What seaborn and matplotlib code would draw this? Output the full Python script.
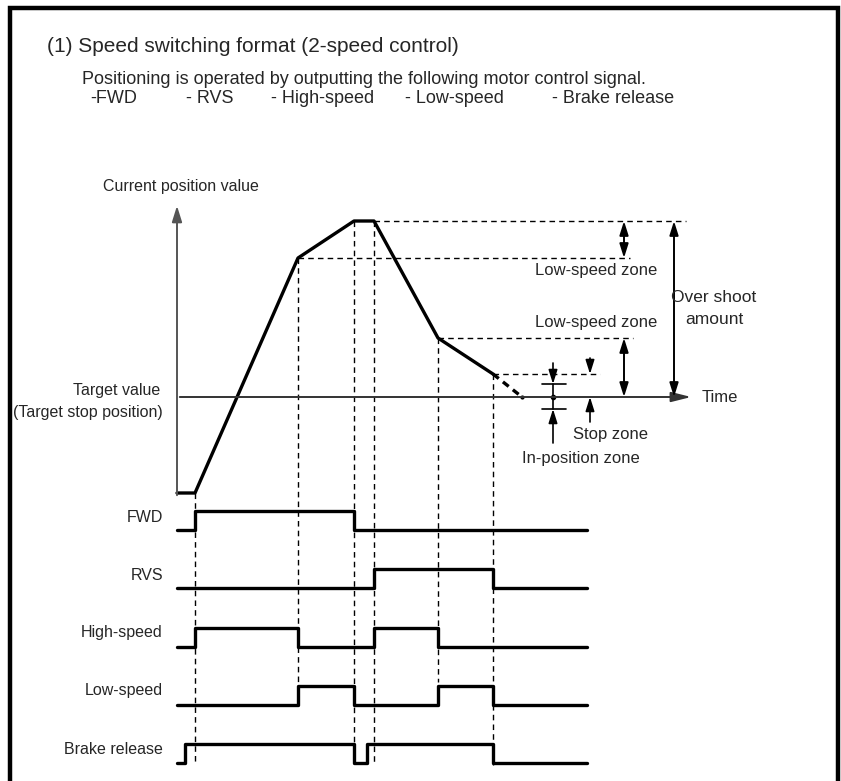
import matplotlib
matplotlib.use("Agg")
import matplotlib.pyplot as plt
import seaborn as sns
import pandas as pd

sns.set_theme(style="white")
plt.rcParams['font.family'] = ['Liberation Sans', 'DejaVu Sans']

# time instants of the sequence (diagram x units)
t_start = 177
t_move = 195
t_low1 = 298
t_stop1 = 354
t_rvs = 374
t_low2 = 438
t_stop2 = 493
t_end = 587
t_brake_on = 185
t_brake_re = 367

# current position (diagram y units, target line at 397)
target_y = 397
pos_t = [t_start, t_move, t_low1, t_stop1, t_rvs, t_low2, t_stop2]
pos_y = [493, 493, 258, 221, 221, 338, 374]
coast_t = [t_stop2, 522]
coast_y = [374, 397]

# control signals
signal_names = ["FWD", "RVS", "High-speed", "Low-speed", "Brake release"]
signal_low = [530, 588, 647, 705, 763]
signal_amp = 19
signal_times = [
    [t_start, t_move, t_stop1, t_end],
    [t_start, t_rvs, t_stop2, t_end],
    [t_start, t_move, t_low1, t_rvs, t_low2, t_end],
    [t_start, t_low1, t_stop1, t_low2, t_stop2, t_end],
    [t_start, t_brake_on, t_stop1, t_brake_re, t_stop2, t_end],
]
signal_levels = [
    [0, 1, 0, 0],
    [0, 1, 0, 0],
    [0, 1, 0, 1, 0, 0],
    [0, 1, 0, 1, 0, 0],
    [0, 1, 0, 1, 0, 0],
]
signal_label_y = [518, 575, 633, 691, 750]

items = ["-FWD", "- RVS", "- High-speed", "- Low-speed", "- Brake release"]
item_x = [90, 186, 271, 405, 552]

fig = plt.figure(figsize=(8.41, 7.81), dpi=100)
ax = fig.add_axes([0, 0, 1, 1])
ax.set_xlim(0, 841)
ax.set_ylim(781, 0)
ax.axis('off')

# frame
ax.plot([10, 10, 838, 838], [781, 8, 8, 781], color='black', lw=3.2, solid_joinstyle='miter')

# header text
ax.text(47, 52, "(1) Speed switching format (2-speed control)", fontsize=15, va='baseline')
ax.text(82, 84, "Positioning is operated by outputting the following motor control signal.",
        fontsize=13, va='baseline')
for s, x in zip(items, item_x):
    ax.text(x, 103, s, fontsize=13, va='baseline')

# axes of the position graph
ax.annotate("", xy=(177, 203), xytext=(177, 498),
            arrowprops=dict(arrowstyle='-|>,head_length=0.8,head_width=0.25', color='#555555', lw=1.4))
ax.annotate("", xy=(694, target_y), xytext=(177, target_y),
            arrowprops=dict(arrowstyle='-|>,head_length=1.0,head_width=0.25', color='#333333', lw=1.4))
ax.text(103, 186, "Current position value", fontsize=11.5, va='center')
ax.text(702, target_y, "Time", fontsize=12, va='center')
ax.text(160, 390, "Target value", fontsize=11.5, va='center', ha='right')
ax.text(163, 412, "(Target stop position)", fontsize=11.5, va='center', ha='right')

# position curve
curve = pd.DataFrame({'t': pos_t, 'y': pos_y})
sns.lineplot(data=curve, x='t', y='y', ax=ax, color='black', lw=2.4, sort=False, estimator=None)
sns.lineplot(x=coast_t, y=coast_y, ax=ax, color='black', lw=2.4, linestyle=(0, (2.2, 1.6)),
             estimator=None)
ax.plot(coast_t[1], coast_y[1], 'o', color='black', ms=2)

# guide lines
dash = dict(color='black', lw=1.0, linestyle=(0, (4, 3)))
ax.plot([t_rvs, 686], [221, 221], **dash)
ax.plot([t_low1, 630], [258, 258], **dash)
ax.plot([t_low2, 633], [338, 338], **dash)
ax.plot([t_stop2, 600], [374, 374], **dash)
for x, y0, y1 in [(t_move, 493, 765), (t_low1, 258, 682), (t_stop1, 221, 765),
                  (t_rvs, 221, 765), (t_low2, 338, 682), (t_stop2, 374, 765)]:
    ax.plot([x, x], [y0, y1], **dash)

# zone arrows
dbl = dict(arrowstyle='<|-|>,head_length=0.7,head_width=0.22', color='black', lw=1.4,
           shrinkA=0, shrinkB=0)
ax.annotate("", xy=(624, 221), xytext=(624, 258), arrowprops=dbl)
ax.annotate("", xy=(624, 338), xytext=(624, target_y), arrowprops=dbl)
ax.annotate("", xy=(674, 221), xytext=(674, target_y), arrowprops=dbl)
one = dict(arrowstyle='-|>,head_length=0.7,head_width=0.22', color='black', lw=1.2,
           shrinkA=0, shrinkB=0)
ax.annotate("", xy=(590, 374), xytext=(590, 358), arrowprops=one)
ax.annotate("", xy=(590, target_y), xytext=(590, 422), arrowprops=one)
ax.annotate("", xy=(553, 384), xytext=(553, 363), arrowprops=one)
ax.annotate("", xy=(553, 409), xytext=(553, 443), arrowprops=one)
ax.plot([542, 566], [384, 384], color='black', lw=1.2)
ax.plot([542, 566], [409, 409], color='black', lw=1.2)
ax.plot([553, 553], [384, 409], color='black', lw=1.2)
ax.plot(553, target_y, 'o', color='black', ms=3)

ax.text(657, 271, "Low-speed zone", fontsize=12, va='center', ha='right')
ax.text(657, 322, "Low-speed zone", fontsize=12, va='center', ha='right')
ax.text(714, 297, "Over shoot", fontsize=12.5, va='center', ha='center')
ax.text(714, 319, "amount", fontsize=12.5, va='center', ha='center')
ax.text(573, 435, "Stop zone", fontsize=12, va='center')
ax.text(522, 459, "In-position zone", fontsize=12, va='center')

# control signals
for name, low, times, levels, ly in zip(signal_names, signal_low, signal_times,
                                        signal_levels, signal_label_y):
    ys = [low - signal_amp * v for v in levels]
    sns.lineplot(x=times, y=ys, ax=ax, color='black', lw=2.4, drawstyle='steps-post',
                 estimator=None)
    ax.text(163, ly, name, fontsize=11.5, va='center', ha='right')

ax.set_xlim(0, 841)
ax.set_ylim(781, 0)
ax.set_xlabel('')
ax.set_ylabel('')
fig.savefig('out.png', dpi=100)
